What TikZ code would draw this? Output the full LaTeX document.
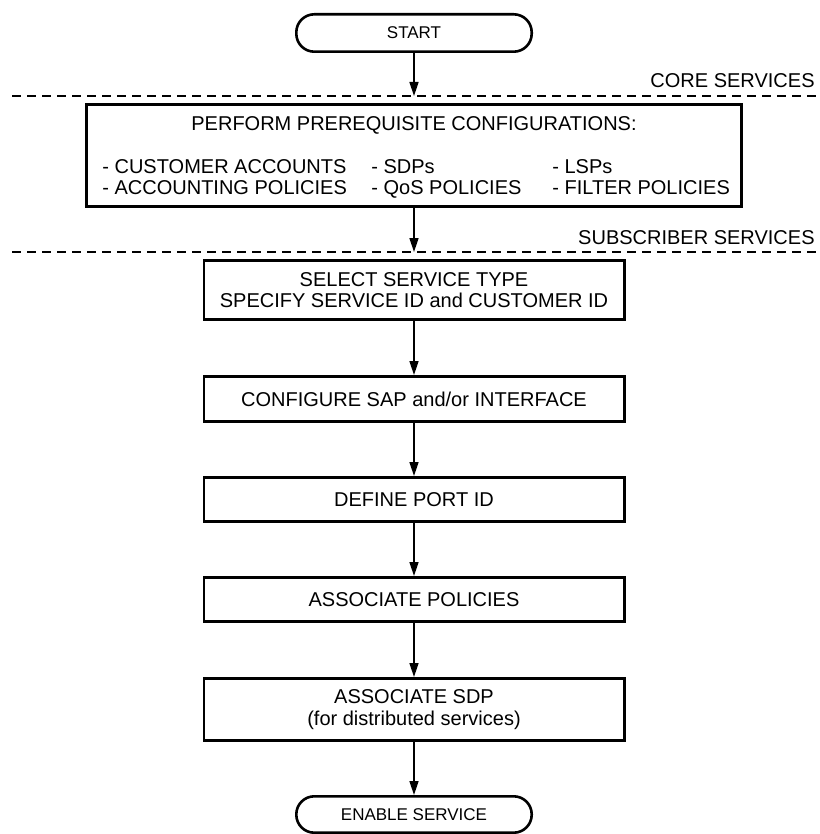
\documentclass[tikz,border=0pt]{standalone}
\usepackage{fontspec}
\setmainfont{Liberation Sans}
\usetikzlibrary{positioning}
\usetikzlibrary{arrows.meta}

\begin{document}
\begin{tikzpicture}[scale=1,
    box/.style={draw, line width=1.3pt, minimum width=210.2pt, minimum height=22.2pt, inner sep=1pt, align=center, font=\fontsize{10}{10.8}\selectfont},
    terminal/.style={draw, line width=1.3pt, rounded corners=9pt, minimum width=117.7pt, minimum height=18.2pt, inner sep=1pt, font=\fontsize{8.5}{10}\selectfont},
    flow/.style={line width=0.8pt, -{Triangle[length=7pt,width=4.5pt]}},
    divider/.style={line width=1pt, dash pattern=on 4.5pt off 3pt},
    itemtext/.style={anchor=base west, inner sep=0pt, font=\fontsize{10}{12}\selectfont},
    layer/.style={anchor=base east, inner sep=0pt, font=\fontsize{10}{12}\selectfont}
  ]
    \useasboundingbox (0,0) rectangle (409.5pt,-417pt);

    \node [terminal, minimum height=18.7pt] (start) at (207pt,-16.5pt) {START};
    \node [box, below=25pt of start, minimum width=327.7pt, minimum height=51.2pt] (prereq) {};
    \node [box, below=25.5pt of prereq, minimum height=29.7pt] (select) {SELECT SERVICE TYPE\\SPECIFY SERVICE ID and CUSTOMER ID};
    \node [box, below=27pt of select, minimum height=22.7pt] (configure) {CONFIGURE SAP and/or INTERFACE};
    \node [box, below=26.5pt of configure] (portid) {DEFINE PORT ID};
    \node [box, below=26.5pt of portid] (policies) {ASSOCIATE POLICIES};
    \node [box, below=27pt of policies, minimum height=31.2pt] (sdp) {ASSOCIATE SDP\\(for distributed services)};
    \node [terminal, below=26.5pt of sdp] (enable) {ENABLE SERVICE};

    \node [itemtext, anchor=base] (prereqtitle) at ([yshift=-14pt]prereq.north) {PERFORM PREREQUISITE CONFIGURATIONS:};
    \node [itemtext] (custacc) at ([xshift=8.5pt,yshift=-35.5pt]prereq.north west) {- CUSTOMER ACCOUNTS};
    \node [itemtext] (acctpol) at ([xshift=8.5pt,yshift=-46pt]prereq.north west) {- ACCOUNTING POLICIES};
    \node [itemtext] (sdps) at ([xshift=143pt,yshift=-35.5pt]prereq.north west) {- SDPs};
    \node [itemtext] (qospol) at ([xshift=143pt,yshift=-46pt]prereq.north west) {- QoS POLICIES};
    \node [itemtext] (lsps) at ([xshift=233.5pt,yshift=-35.5pt]prereq.north west) {- LSPs};
    \node [itemtext] (filtpol) at ([xshift=233.5pt,yshift=-46pt]prereq.north west) {- FILTER POLICIES};

    \coordinate (coreL) at (6pt,-48pt);
    \coordinate (coreR) at (409.5pt,-48pt);
    \coordinate (subL) at (6pt,-126pt);
    \coordinate (subR) at (409.5pt,-126pt);
    \draw [divider] (coreL) -- (coreR);
    \draw [divider] (subL) -- (subR);
    \node [layer] (corelabel) at ([xshift=-2pt,yshift=4pt]coreR) {CORE SERVICES};
    \node [layer] (sublabel) at ([xshift=-2pt,yshift=4pt]subR) {SUBSCRIBER SERVICES};

    \draw [flow] (start) -- (start.south |- coreL);
    \draw [flow] (prereq) -- (prereq.south |- subL);
    \draw [flow] (select) -- (configure);
    \draw [flow] (configure) -- (portid);
    \draw [flow] (portid) -- (policies);
    \draw [flow] (policies) -- (sdp);
    \draw [flow] (sdp) -- (enable);
\end{tikzpicture}
\end{document}
